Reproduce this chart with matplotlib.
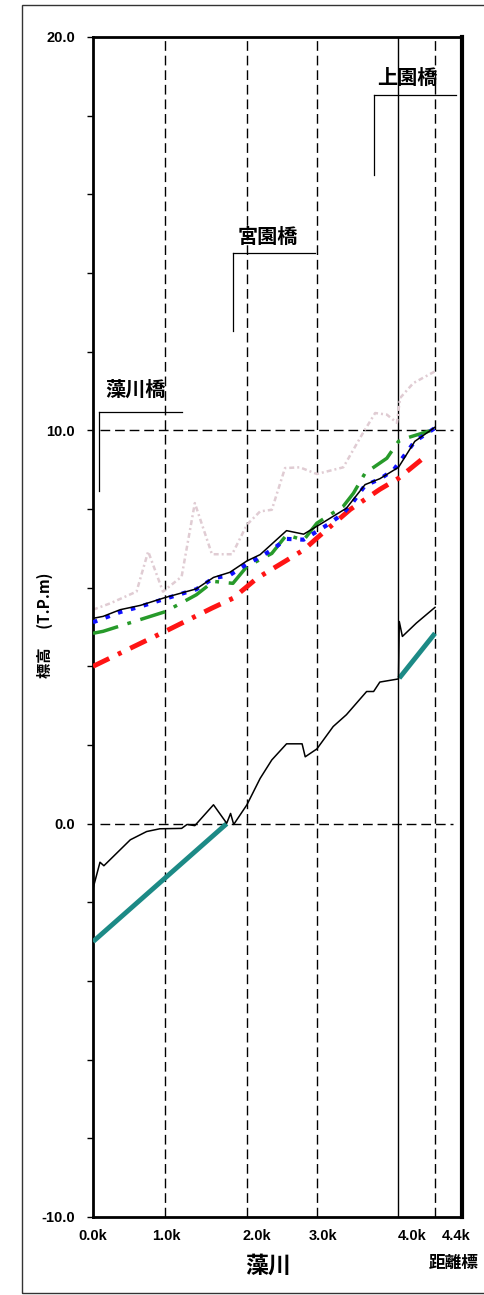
import matplotlib
matplotlib.use("Agg")
import matplotlib.pyplot as plt
import numpy as np
from matplotlib.patches import Rectangle
from matplotlib.ticker import MultipleLocator, FuncFormatter

plt.rcParams['font.family'] = ['Liberation Sans', 'Noto Sans CJK JP', 'DejaVu Sans']
JP = ['Noto Sans CJK JP', 'DejaVu Sans']

# ---------------- data (distance in km, elevation in T.P.m) ----------------
bank_x = [0.00, 0.22, 0.56, 0.71, 0.90, 1.14, 1.31, 1.53, 1.79, 1.98, 2.15, 2.30,
          2.47, 2.66, 2.88, 3.22, 3.46, 3.63, 3.78, 3.91, 3.95, 4.12, 4.40]
bank_y = [5.44, 5.60, 5.90, 6.92, 5.90, 6.28, 8.15, 6.85, 6.85, 7.60, 7.94, 7.98,
          9.04, 9.06, 8.89, 9.06, 9.89, 10.44, 10.40, 10.19, 10.82, 11.20, 11.50]

red_x = [0.00, 0.48, 0.93, 1.53, 1.80, 2.11, 2.47, 2.71, 2.88, 3.31, 3.69, 3.93, 4.29]
red_y = [4.00, 4.46, 4.89, 5.48, 5.73, 6.24, 6.67, 6.96, 7.26, 7.99, 8.50, 8.78, 9.36]

green_x = [0.00, 0.13, 0.93, 1.33, 1.55, 1.80, 1.98, 2.30, 2.49, 2.71, 2.88,
           3.22, 3.35, 3.50, 3.78, 3.93, 4.06, 4.34]
green_y = [4.84, 4.89, 5.39, 5.82, 6.16, 6.11, 6.54, 6.87, 7.34, 7.21, 7.64,
           8.07, 8.40, 8.91, 9.29, 9.72, 9.82, 9.99]

blue_x = [0.00, 0.35, 0.61, 0.93, 1.33, 1.55, 1.76, 1.98, 2.15, 2.30, 2.49, 2.71,
          2.88, 3.05, 3.22, 3.35, 3.50, 3.69, 3.87, 4.14, 4.40]
blue_y = [5.12, 5.38, 5.52, 5.72, 5.96, 6.24, 6.32, 6.60, 6.78, 6.96, 7.24, 7.22,
          7.43, 7.64, 7.89, 8.19, 8.60, 8.76, 9.00, 9.72, 10.06]

wl_x = [0.00, 0.13, 0.35, 0.61, 0.93, 1.33, 1.55, 1.76, 1.98, 2.15, 2.49, 2.71,
        2.88, 3.26, 3.50, 3.69, 3.93, 4.14, 4.40]
wl_y = [5.22, 5.27, 5.44, 5.55, 5.75, 5.97, 6.26, 6.39, 6.68, 6.84, 7.45, 7.36,
        7.56, 8.02, 8.62, 8.77, 9.06, 9.72, 10.08]

bed_x = [0.00, 0.09, 0.14, 0.48, 0.69, 0.86, 1.14, 1.21, 1.31, 1.55, 1.72, 1.77,
         1.81, 1.98, 2.15, 2.30, 2.49, 2.69, 2.73, 2.88, 3.09, 3.26, 3.52, 3.61,
         3.69, 3.93, 3.94, 3.98, 4.16, 4.40]
bed_y = [-1.65, -0.98, -1.07, -0.41, -0.20, -0.13, -0.12, -0.02, -0.05, 0.48, 0.01, 0.26,
         -0.02, 0.48, 1.15, 1.62, 2.03, 2.03, 1.70, 1.90, 2.47, 2.77, 3.36, 3.36,
         3.60, 3.68, 5.14, 4.76, 5.10, 5.50]

plan_x = [0.00, 1.72, np.nan, 3.94, 4.40]
plan_y = [-3.00, 0.00, np.nan, 3.70, 4.84]

# distance posts (grid lines) and their labels
post_x = [0.93, 1.98, 2.88, 4.40]
section_x = 3.924
tick_pos = [0.0, 0.95, 2.11, 2.96, 4.10, 4.67]
tick_lab = ['0.0k', '1.0k', '2.0k', '3.0k', '4.0k', '4.4k']

bridges = ['藻川橋', '宮園橋', '上園橋']
bridge_x0 = [0.08, 1.80, 3.62]
bridge_x1 = [1.14, 2.86, 4.67]
bridge_top = [10.47, 14.51, 18.52]
bridge_bot = [8.47, 12.52, 16.50]
bridge_tx = [0.55, 2.25, 4.05]
bridge_ty = [11.04, 14.94, 18.96]

# ---------------- figure ----------------
fig = plt.figure(figsize=(4.85, 12.95), dpi=100)
ax = fig.add_axes([93/485, 1 - 1217/1295, (462 - 93)/485, (1217 - 37)/1295])

# outer frame
fig.patches.append(Rectangle((22/485, 2/1295), 1.0, 1 - 7/1295, transform=fig.transFigure,
                             fill=False, edgecolor='#333333', linewidth=1.0))

ax.set_xlim(0, 4.747)
ax.set_ylim(-10, 20)

# grid lines
for xv in post_x:
    ax.axvline(xv, color='black', lw=1.0, linestyle=(0, (7, 3.5)), zorder=1)
ax.axvline(section_x, color='black', lw=1.0, zorder=1)
ax.hlines([0, 10], 0.09, 4.63, colors='black', lw=1.0, linestyles=[(0, (7, 3.5))], zorder=1)

# series
ax.plot(bank_x, bank_y, color='#e0ccd3', lw=1.8, linestyle=(0, (2.0, 1.2, 0.8, 1.2)), zorder=2)
ax.plot(red_x, red_y, color='#ff1414', lw=3.5, linestyle=(0, (3.7, 2.0, 0.8, 2.0)), zorder=3)
ax.plot(green_x, green_y, color='#279a2a', lw=2.5, linestyle=(0, (7.5, 2.8, 1.1, 2.8)), zorder=4)
ax.plot(blue_x, blue_y, color='#1010ff', lw=3.0, linestyle=(0, (1.1, 2.1)), zorder=5)
ax.plot(wl_x, wl_y, color='black', lw=1.1, zorder=6)
ax.plot(plan_x, plan_y, color='#1c8a86', lw=3.5, solid_capstyle='butt', zorder=5)
ax.plot(bed_x, bed_y, color='black', lw=1.1, zorder=6)

# bridges
for name, x0, x1, yt, yb, tx, ty in zip(bridges, bridge_x0, bridge_x1, bridge_top,
                                        bridge_bot, bridge_tx, bridge_ty):
    ax.plot([x0, x1], [yt, yt], color='black', lw=0.9, zorder=7)
    ax.plot([x0, x0], [yt, yb], color='black', lw=0.9, zorder=7)
    ax.text(tx, ty, name, family=JP, fontsize=14.5, fontweight='bold',
            ha='center', va='center', zorder=8)

# axes styling
for side in ['left', 'top', 'bottom']:
    ax.spines[side].set_linewidth(2.0)
ax.spines['right'].set_linewidth(3.0)

ax.yaxis.set_major_locator(MultipleLocator(2))
ax.yaxis.set_major_formatter(FuncFormatter(
    lambda v, p: f"{v:.1f}" if abs(v % 10) < 1e-6 or abs(v % 10 - 10) < 1e-6 else ""))
ax.tick_params(axis='y', direction='out', length=4, width=1.0, pad=9,
               labelsize=10.5)
for lab in ax.get_yticklabels():
    lab.set_fontweight('bold')

ax.set_xticks(tick_pos)
ax.set_xticklabels(tick_lab, fontsize=10.5, fontweight='bold')
ax.tick_params(axis='x', length=0, pad=9)

fig.text(45/485, 1 - 625/1295, '標高　 (T.P.m)', family=JP, fontsize=11, fontweight='bold',
         rotation=90, ha='center', va='center')

fig.text(268/485, 1 - 1266/1295, '藻川', family=JP, fontsize=16.5, fontweight='bold',
         ha='center', va='center')
fig.text(454/485, 1 - 1263/1295, '距離標', family=JP, fontsize=12, fontweight='bold',
         ha='center', va='center')

fig.savefig('out.png', dpi=100)
